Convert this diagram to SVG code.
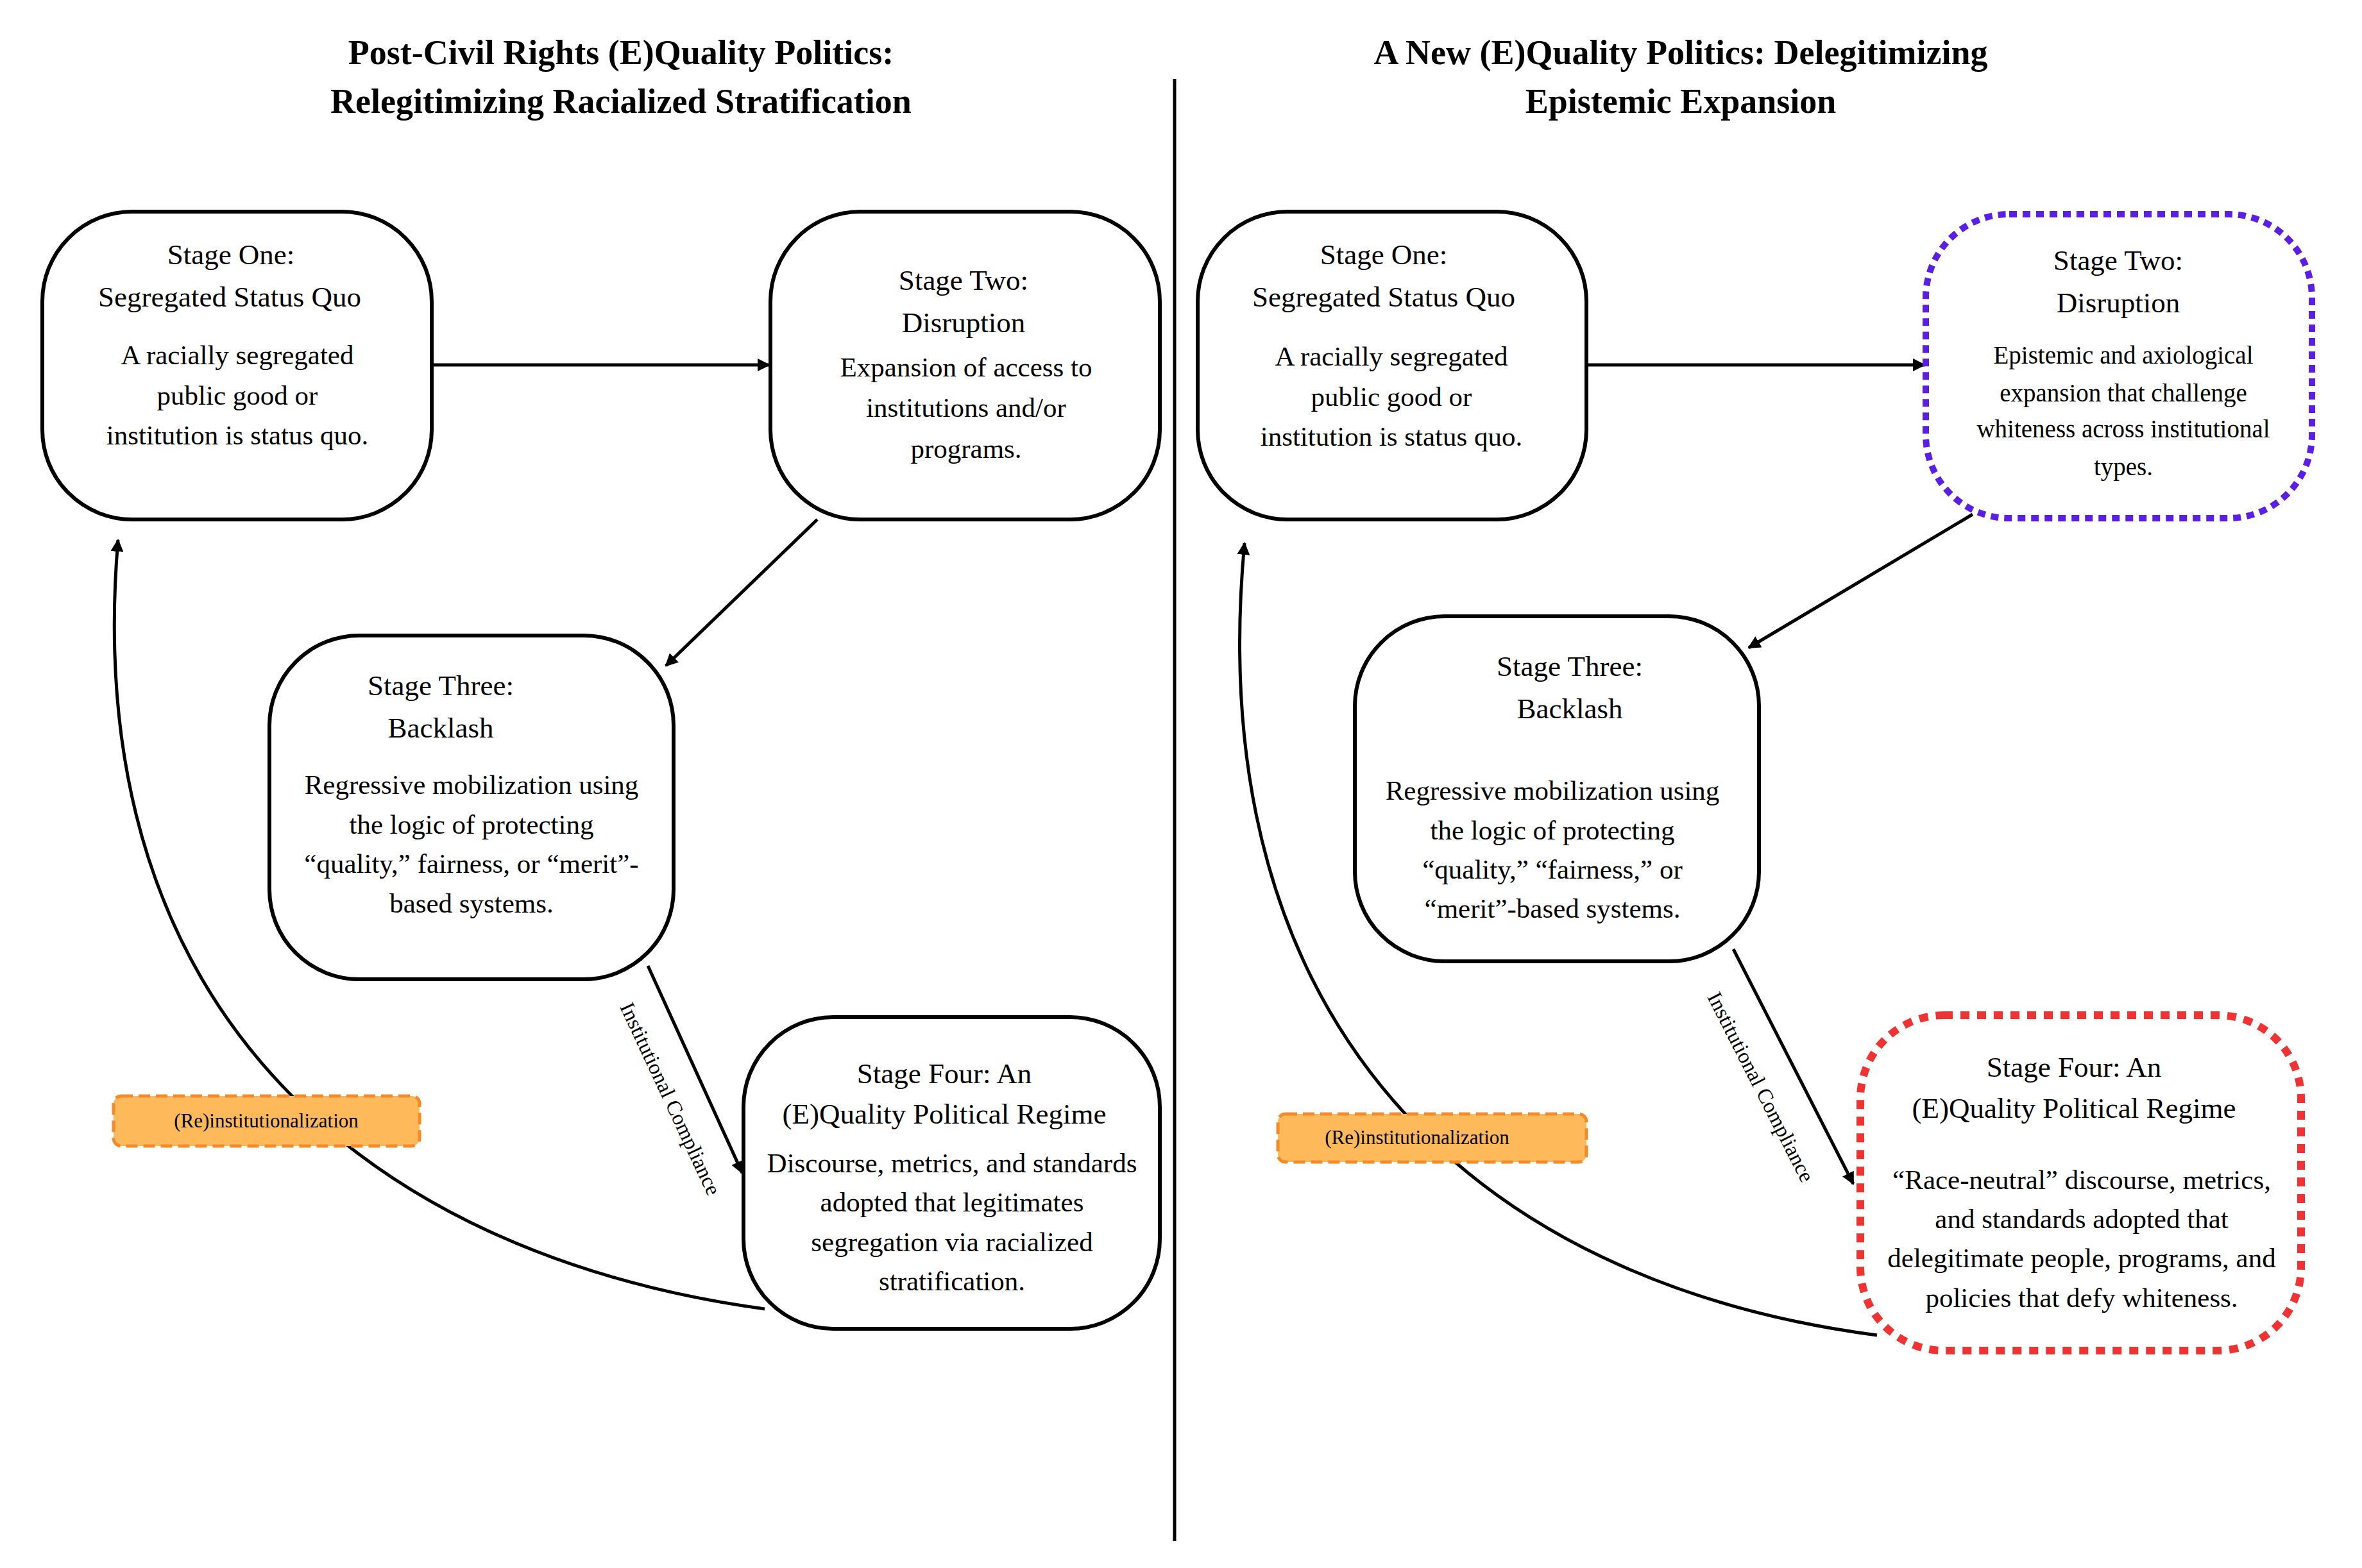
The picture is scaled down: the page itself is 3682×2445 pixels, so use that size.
<svg xmlns="http://www.w3.org/2000/svg" width="3682" height="2445" viewBox="0 0 3682 2445">
<style>
text{font-family:"Liberation Serif","Times New Roman",serif;fill:#000;text-anchor:middle}
.t{font-size:54px;font-weight:bold}
.h{font-size:45px}
.b{font-size:43px}
.s{font-size:39px}
.box{fill:#fff;stroke:#000;stroke-width:6}
.lbl{fill:#fdb95a;stroke:#f58a2a;stroke-width:5;stroke-dasharray:18 9}
.lt{font-size:31px}
.ct{font-size:33px}
.c{fill:none;stroke:#000;stroke-width:5}
</style>
<defs>
<marker id="a" viewBox="0 0 10 10" refX="9" refY="5" markerWidth="4" markerHeight="4" orient="auto"><path d="M0,0L10,5L0,10z" fill="#000"/></marker>
</defs>
<rect width="3682" height="2445" fill="#fff"/>
<g id="titles">
<text class="t" x="968" y="100">Post-Civil Rights (E)Quality Politics:</text>
<text class="t" x="968" y="176">Relegitimizing Racialized Stratification</text>
<text class="t" x="2620" y="100">A  New (E)Quality Politics: Delegitimizing</text>
<text class="t" x="2620" y="176">Epistemic Expansion</text>
</g>
<line x1="1831" y1="123" x2="1831" y2="2403" stroke="#000" stroke-width="5"/>
<g id="connectors">
<line class="c" x1="673" y1="569" x2="1199" y2="569" marker-end="url(#a)"/>
<line class="c" x1="1274" y1="810" x2="1038" y2="1038" marker-end="url(#a)"/>
<line class="c" x1="1010" y1="1506" x2="1157" y2="1829" marker-end="url(#a)"/>
<path class="c" d="M1192,2041 C600,1960 120,1600 184,842" marker-end="url(#a)"/>
<line class="c" x1="2473" y1="569" x2="3000" y2="569" marker-end="url(#a)"/>
<line class="c" x1="3075" y1="802" x2="2726" y2="1010" marker-end="url(#a)"/>
<line class="c" x1="2702" y1="1480" x2="2889" y2="1846" marker-end="url(#a)"/>
<path class="c" d="M2926,2082 C2300,2000 1870,1600 1940,847" marker-end="url(#a)"/>
<text class="ct" transform="translate(1035,1718) rotate(65)">Institutional Compliance</text>
<text class="ct" transform="translate(2735,1700) rotate(63)">Institutional Compliance</text>
</g>
<g id="L1"><rect class="box" x="66" y="330" width="607" height="480" rx="140"/>
<text class="h" x="360" y="412">Stage One:</text><text class="h" x="358" y="478">Segregated Status Quo</text>
<text class="b" x="370" y="568">A racially segregated</text><text class="b" x="370" y="631">public good or</text><text class="b" x="370" y="693">institution is status quo.</text></g>
<g id="L2"><rect class="box" x="1201" y="330" width="607" height="480" rx="140"/>
<text class="h" x="1502" y="452">Stage Two:</text><text class="h" x="1502" y="518">Disruption</text>
<text class="b" x="1506" y="587">Expansion of access to</text><text class="b" x="1506" y="650">institutions and/or</text><text class="b" x="1506" y="714">programs.</text></g>
<g id="L3"><rect class="box" x="420" y="991" width="630" height="536" rx="140"/>
<text class="h" x="687" y="1084">Stage Three:</text><text class="h" x="687" y="1150">Backlash</text>
<text class="b" x="735" y="1238">Regressive mobilization using</text><text class="b" x="735" y="1300">the logic of protecting</text><text class="b" x="735" y="1361">“quality,” fairness, or “merit”-</text><text class="b" x="735" y="1423">based systems.</text></g>
<g id="L4"><rect class="box" x="1159" y="1586" width="649" height="486" rx="140"/>
<text class="h" x="1472" y="1689">Stage Four: An</text><text class="h" x="1472" y="1752">(E)Quality Political Regime</text>
<text class="b" x="1484" y="1828">Discourse, metrics, and standards</text><text class="b" x="1484" y="1889">adopted that legitimates</text><text class="b" x="1484" y="1951">segregation via racialized</text><text class="b" x="1484" y="2012">stratification.</text></g>
<g id="LR"><rect class="lbl" x="177" y="1709" width="477" height="78" rx="12"/><text class="lt" x="415" y="1758">(Re)institutionalization</text></g>
<g id="R1"><rect class="box" x="1867" y="330" width="606" height="480" rx="140"/>
<text class="h" x="2157" y="412">Stage One:</text><text class="h" x="2157" y="478">Segregated Status Quo</text>
<text class="b" x="2169" y="570">A racially segregated</text><text class="b" x="2169" y="633">public good or</text><text class="b" x="2169" y="695">institution is status quo.</text></g>
<g id="R2"><rect x="3002" y="334" width="602" height="474" rx="130" fill="#fff" stroke="#5b1ee6" stroke-width="10" stroke-dasharray="12 9"/>
<text class="h" x="3302" y="421">Stage Two:</text><text class="h" x="3302" y="487">Disruption</text>
<text class="s" x="3310" y="567">Epistemic and axiological</text><text class="s" x="3310" y="626">expansion that challenge</text><text class="s" x="3310" y="682">whiteness across institutional</text><text class="s" x="3310" y="741">types.</text></g>
<g id="R3"><rect class="box" x="2112" y="961" width="630" height="538" rx="140"/>
<text class="h" x="2447" y="1054">Stage Three:</text><text class="h" x="2447" y="1120">Backlash</text>
<text class="b" x="2420" y="1247">Regressive mobilization using</text><text class="b" x="2420" y="1309">the logic of protecting</text><text class="b" x="2420" y="1370">“quality,” “fairness,” or</text><text class="b" x="2420" y="1431">“merit”-based systems.</text></g>
<g id="R4"><rect x="2900" y="1583" width="687" height="523" rx="130" fill="#fff" stroke="#f03232" stroke-width="12" stroke-dasharray="14 12"/>
<text class="h" x="3233" y="1679">Stage Four: An</text><text class="h" x="3233" y="1743">(E)Quality Political Regime</text>
<text class="b" x="3245" y="1854">“Race-neutral” discourse, metrics,</text><text class="b" x="3245" y="1915">and standards adopted that</text><text class="b" x="3245" y="1976">delegitimate people, programs, and</text><text class="b" x="3245" y="2038">policies that defy whiteness.</text></g>
<g id="RR"><rect class="lbl" x="1992" y="1737" width="481" height="75" rx="12"/><text class="lt" x="2209" y="1784">(Re)institutionalization</text></g>
</svg>
